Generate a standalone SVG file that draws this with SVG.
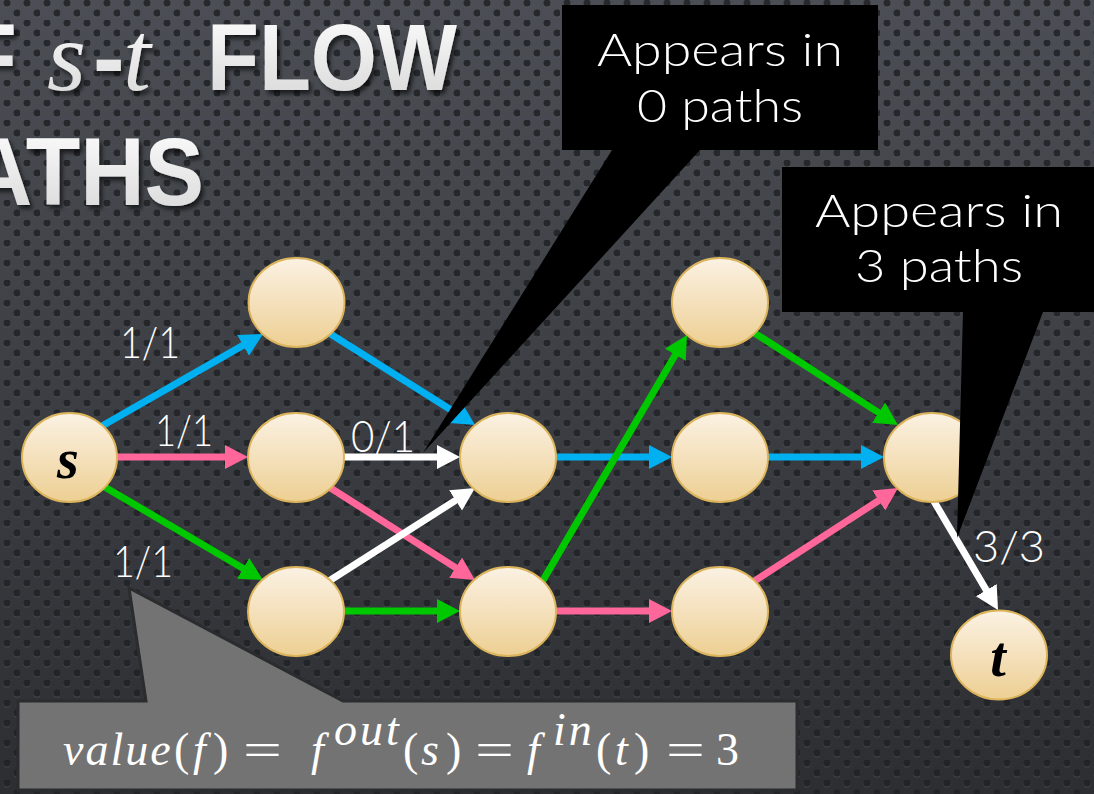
<svg xmlns="http://www.w3.org/2000/svg" width="1094" height="794" viewBox="0 0 1094 794">
<defs>
<linearGradient id="bg" x1="0" y1="0" x2="0" y2="1">
<stop offset="0" stop-color="#4b4e54"/>
<stop offset="1" stop-color="#2c2e32"/>
</linearGradient>
<pattern id="dots" width="20" height="20" patternUnits="userSpaceOnUse">
<circle cx="7" cy="4.2" r="3.6" fill="#5a5d63" opacity="0.35"/>
<circle cx="17" cy="14.2" r="3.6" fill="#5a5d63" opacity="0.35"/>
<circle cx="7" cy="3" r="3.5" fill="#1b1d21" opacity="0.8"/>
<circle cx="17" cy="13" r="3.5" fill="#1b1d21" opacity="0.8"/>
</pattern>
<linearGradient id="nodeFill" x1="0" y1="0" x2="0" y2="1">
<stop offset="0" stop-color="#fbf2e3"/>
<stop offset="0.45" stop-color="#f5e2c0"/>
<stop offset="1" stop-color="#edcf92"/>
</linearGradient>
<linearGradient id="titleFill" x1="0" y1="0" x2="0" y2="1">
<stop offset="0" stop-color="#ffffff"/>
<stop offset="1" stop-color="#d6d6d6"/>
</linearGradient>
<filter id="tshadow" x="-10%" y="-10%" width="130%" height="140%">
<feDropShadow dx="3" dy="4" stdDeviation="2" flood-color="#000000" flood-opacity="0.6"/>
</filter>
<marker id="ah-blue" markerUnits="userSpaceOnUse" markerWidth="24" markerHeight="24" refX="7" refY="12" orient="auto"><path d="M0,0 L23,12 L0,24 Z" fill="#00b0f0"/></marker>
<marker id="ah-pink" markerUnits="userSpaceOnUse" markerWidth="24" markerHeight="24" refX="7" refY="12" orient="auto"><path d="M0,0 L23,12 L0,24 Z" fill="#ff6699"/></marker>
<marker id="ah-green" markerUnits="userSpaceOnUse" markerWidth="24" markerHeight="24" refX="7" refY="12" orient="auto"><path d="M0,0 L23,12 L0,24 Z" fill="#00c800"/></marker>
<marker id="ah-white" markerUnits="userSpaceOnUse" markerWidth="24" markerHeight="24" refX="7" refY="12" orient="auto"><path d="M0,0 L23,12 L0,24 Z" fill="#ffffff"/></marker>
<style>
.node{fill:url(#nodeFill);stroke:#dcb45c;stroke-width:2}
.e{stroke-width:7;stroke-linecap:round;fill:none}
.blue{stroke:#00b0f0;marker-end:url(#ah-blue)}
.pink{stroke:#ff6699;marker-end:url(#ah-pink)}
.green{stroke:#00c800;marker-end:url(#ah-green)}
.white{stroke:#ffffff;marker-end:url(#ah-white)}
.lbl{font-family:Lato,"Liberation Sans",sans-serif;font-weight:300;font-size:44px;fill:#ffffff}
.call{font-family:Lato,"Liberation Sans",sans-serif;font-weight:300;font-size:46px;fill:#ffffff;text-anchor:middle}
.title{font-family:"Liberation Sans",Arial,sans-serif;font-weight:bold;fill:url(#titleFill)}
.tmath{font-family:"Liberation Serif","Times New Roman",serif;font-style:italic;font-size:100px;fill:url(#titleFill)}
.math{font-family:"Liberation Serif","Times New Roman",serif;font-style:italic;font-weight:bold;fill:#000000;text-anchor:middle}
.fm{font-family:"Liberation Serif","Times New Roman",serif;font-size:46px;fill:#ffffff}
.it{font-style:italic}
</style>
</defs>

<rect width="1094" height="794" fill="url(#bg)"/>
<rect width="1094" height="794" fill="url(#dots)"/>

<g id="title" filter="url(#tshadow)">
<text class="title" x="-41" y="90" font-size="95">F</text>
<text class="tmath" x="47" y="90">s</text>
<text class="title" x="93" y="90" font-size="95">-</text>
<text class="tmath" x="123" y="90">t</text>
<text class="title" x="207" y="90" font-size="95" textLength="250" lengthAdjust="spacingAndGlyphs">FLOW</text>
<text class="title" x="-32" y="205" font-size="96" textLength="236" lengthAdjust="spacingAndGlyphs">ATHS</text>
</g>

<g id="connectors">
<line class="e blue" x1="102" y1="426" x2="249.1" y2="341.9"/>
<line class="e pink" x1="116" y1="457" x2="232" y2="457"/>
<line class="e green" x1="103" y1="486" x2="249.2" y2="571.9"/>
<line class="e blue" x1="329" y1="333" x2="461.5" y2="416.5"/>
<line class="e white" x1="342" y1="457" x2="444" y2="457"/>
<line class="e pink" x1="329" y1="487" x2="461.5" y2="571.4"/>
<line class="e white" x1="329" y1="581" x2="461.5" y2="496.6"/>
<line class="e green" x1="343" y1="611" x2="444" y2="611"/>
<line class="e blue" x1="553" y1="457" x2="656" y2="457"/>
<line class="e green" x1="542" y1="582" x2="678.9" y2="348.8"/>
<line class="e pink" x1="553" y1="611" x2="656" y2="611"/>
<line class="e green" x1="753" y1="332" x2="884.5" y2="416.4"/>
<line class="e blue" x1="766" y1="457" x2="868" y2="457"/>
<line class="e pink" x1="753" y1="582" x2="884.6" y2="496.7"/>
<line class="e white" x1="932" y1="498" x2="989.9" y2="596.2"/>
</g>

<g id="edge-labels">
<text class="lbl" x="120" y="358" textLength="60" lengthAdjust="spacingAndGlyphs">1/1</text>
<text class="lbl" x="155" y="446" textLength="58" lengthAdjust="spacingAndGlyphs">1/1</text>
<text class="lbl" x="113" y="577" textLength="60" lengthAdjust="spacingAndGlyphs">1/1</text>
<text class="lbl" x="351" y="452" textLength="64" lengthAdjust="spacingAndGlyphs">0/1</text>
<text class="lbl" x="973" y="562" textLength="72" lengthAdjust="spacingAndGlyphs">3/3</text>
</g>

<g id="node-s"><ellipse class="node" cx="69.5" cy="457.5" rx="47.5" ry="44.5"/><text class="math" x="68" y="478" font-size="56">s</text></g>
<g id="node-a"><ellipse class="node" cx="296.5" cy="302.5" rx="48" ry="44.5"/></g>
<g id="node-b"><ellipse class="node" cx="296" cy="457.5" rx="48" ry="44.5"/></g>
<g id="node-c"><ellipse class="node" cx="296" cy="611.5" rx="48" ry="44.5"/></g>
<g id="node-d"><ellipse class="node" cx="508" cy="457.5" rx="48" ry="44.5"/></g>
<g id="node-e"><ellipse class="node" cx="508" cy="611.5" rx="48" ry="44.5"/></g>
<g id="node-f"><ellipse class="node" cx="720" cy="302.5" rx="48" ry="44.5"/></g>
<g id="node-g"><ellipse class="node" cx="720" cy="457.5" rx="48" ry="44.5"/></g>
<g id="node-h"><ellipse class="node" cx="720" cy="611.5" rx="48" ry="44.5"/></g>
<g id="node-i"><ellipse class="node" cx="932" cy="457.5" rx="48" ry="44.5"/></g>
<g id="node-t"><ellipse class="node" cx="999" cy="655" rx="48" ry="44.5"/><text class="math" x="998" y="676" font-size="56">t</text></g>

<g id="callout-0">
<path d="M562,5 H878 V150 H700 L423,453 L612,150 H562 Z" fill="#000000"/>
<text class="call" x="720" y="66" textLength="246" lengthAdjust="spacingAndGlyphs">Appears in</text>
<text class="call" x="720" y="122" textLength="166" lengthAdjust="spacingAndGlyphs">0 paths</text>
</g>

<g id="callout-3">
<path d="M782,167 H1100 V312 H1043 L957,538 L963,312 H782 Z" fill="#000000"/>
<text class="call" x="939" y="227" textLength="248" lengthAdjust="spacingAndGlyphs">Appears in</text>
<text class="call" x="939" y="282" textLength="168" lengthAdjust="spacingAndGlyphs">3 paths</text>
</g>

<g id="formula">
<path d="M18,701 H146 L129,588 L343,701 H797 V790 H18 Z" fill="#737373" stroke="#2b2c2e" stroke-width="3" stroke-linejoin="miter"/>
<text class="fm it" x="63" y="765" letter-spacing="2">value</text>
<text class="fm" x="174" y="765">(</text>
<text class="fm it" x="193" y="765">f</text>
<text class="fm" x="213" y="765">)</text>
<text class="fm" transform="translate(243,765) scale(1.5,1)">=</text>
<text class="fm it" x="311" y="765">f</text>
<text class="fm it" x="334" y="745" font-size="31" letter-spacing="3">out</text>
<text class="fm" x="403" y="765">(</text>
<text class="fm it" x="421" y="765">s</text>
<text class="fm" x="446" y="765">)</text>
<text class="fm" transform="translate(475,765) scale(1.5,1)">=</text>
<text class="fm it" x="527" y="765">f</text>
<text class="fm it" x="553" y="745" font-size="31" letter-spacing="3">in</text>
<text class="fm" x="596" y="765">(</text>
<text class="fm it" x="615" y="765">t</text>
<text class="fm" x="634" y="765">)</text>
<text class="fm" transform="translate(666,765) scale(1.5,1)">=</text>
<text class="fm" x="716" y="765" font-size="42">3</text>
</g>
</svg>
